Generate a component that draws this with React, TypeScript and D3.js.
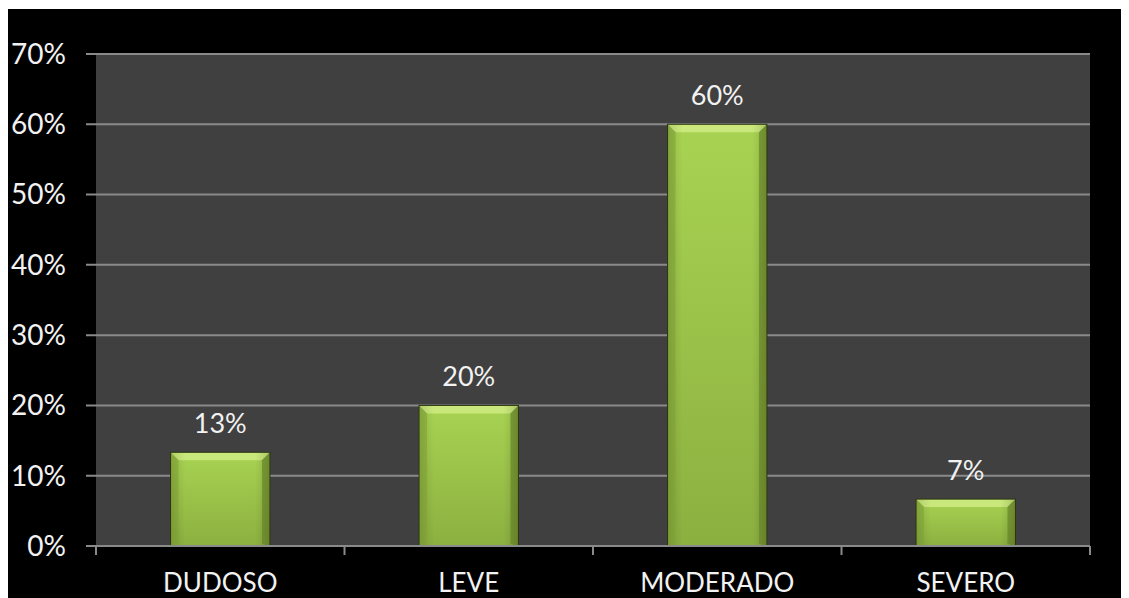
import React from "react";
import * as d3 from "d3";

const categories = ["DUDOSO", "LEVE", "MODERADO", "SEVERO"];
const values = [0.1333, 0.2, 0.6, 0.0667];
const labels = ["13%", "20%", "60%", "7%"];
const yTicks = [0, 0.1, 0.2, 0.3, 0.4, 0.5, 0.6, 0.7];

export default function App() {
  const W = 1121, H = 590;
  const ox = 0, oy = 1;
  const left = 96 - 8, right = 1090 - 8, top = 54 - 8, bottom = 546 - 8;
  const x = d3.scaleBand<string>().domain(categories).range([left, right]).padding(0);
  const y = d3.scaleLinear().domain([0, 0.7]).range([bottom, top]);
  const fmt = d3.format(".0%");
  const bw = x.bandwidth() * 0.4;
  const font = "Lato, 'Open Sans', sans-serif";
  const bev = 8;
  return (
    <svg width={W} height={H} style={{ display: "block" }}>
      <defs>
        <linearGradient id="g" x1="0" y1="0" x2="0" y2="1">
          <stop offset="0" stopColor="#a8d352" />
          <stop offset="1" stopColor="#8cb040" />
        </linearGradient>
        <linearGradient id="gh" x1="0" y1="0" x2="1" y2="0">
          <stop offset="0" stopColor="#000" stopOpacity="0.12" />
          <stop offset="0.15" stopColor="#000" stopOpacity="0" />
          <stop offset="0.85" stopColor="#000" stopOpacity="0" />
          <stop offset="1" stopColor="#000" stopOpacity="0.15" />
        </linearGradient>
      </defs>
      <rect x={ox} y={oy} width={W} height={H - oy} fill="#000" />
      <rect x={left} y={top} width={right - left} height={bottom - top} fill="#404040" />
      {yTicks.map((t) => (
        <g key={t}>
          <line x1={left - 10} x2={right} y1={y(t)} y2={y(t)} stroke="#8a8a8a" strokeWidth={2} />
          <text x={58} y={y(t)} dy="0.35em" textAnchor="end" fill="#f2f2f2" fontSize={28} fontFamily={font}>
            {fmt(t)}
          </text>
        </g>
      ))}
      {categories.map((c, i) => {
        const x0 = (x(c) as number) + (x.bandwidth() - bw) / 2;
        const x1 = x0 + bw;
        const yt = y(values[i]);
        const yb = y(0);
        return (
          <g key={c}>
            <rect x={x0} y={yt} width={bw} height={yb - yt} fill="url(#g)" />
            <polygon points={`${x0},${yt} ${x1},${yt} ${x1 - bev},${yt + bev} ${x0 + bev},${yt + bev}`} fill="#cdea80" opacity={0.9} />
            <polygon points={`${x0},${yt} ${x0 + bev},${yt + bev} ${x0 + bev},${yb - 2} ${x0},${yb}`} fill="#88ab3a" opacity={0.6} />
            <polygon points={`${x1},${yt} ${x1 - bev},${yt + bev} ${x1 - bev},${yb - 2} ${x1},${yb}`} fill="#6f8f2c" opacity={0.7} />
            <rect x={x0} y={yt} width={bw} height={yb - yt} fill="url(#gh)" />
            <rect x={x0} y={yt} width={bw} height={yb - yt} fill="none" stroke="#2a3510" strokeWidth={1} />
            <text x={x0 + bw / 2} y={yt - 29} dy="0.35em" textAnchor="middle" fill="#f2f2f2" fontSize={27} fontFamily={font}>
              {labels[i]}
            </text>
            <text x={x0 + bw / 2} y={575} dy="0.35em" textAnchor="middle" fill="#f2f2f2" fontSize={26} fontFamily={font}>
              {c}
            </text>
          </g>
        );
      })}
      <line x1={left} x2={right} y1={bottom} y2={bottom} stroke="#8a8a8a" strokeWidth={2} />
      {[...categories.map((c) => x(c) as number), right].map((tx, i) => (
        <line key={i} x1={tx} x2={tx} y1={bottom} y2={bottom + 9} stroke="#8a8a8a" strokeWidth={2} />
      ))}
    </svg>
  );
}
